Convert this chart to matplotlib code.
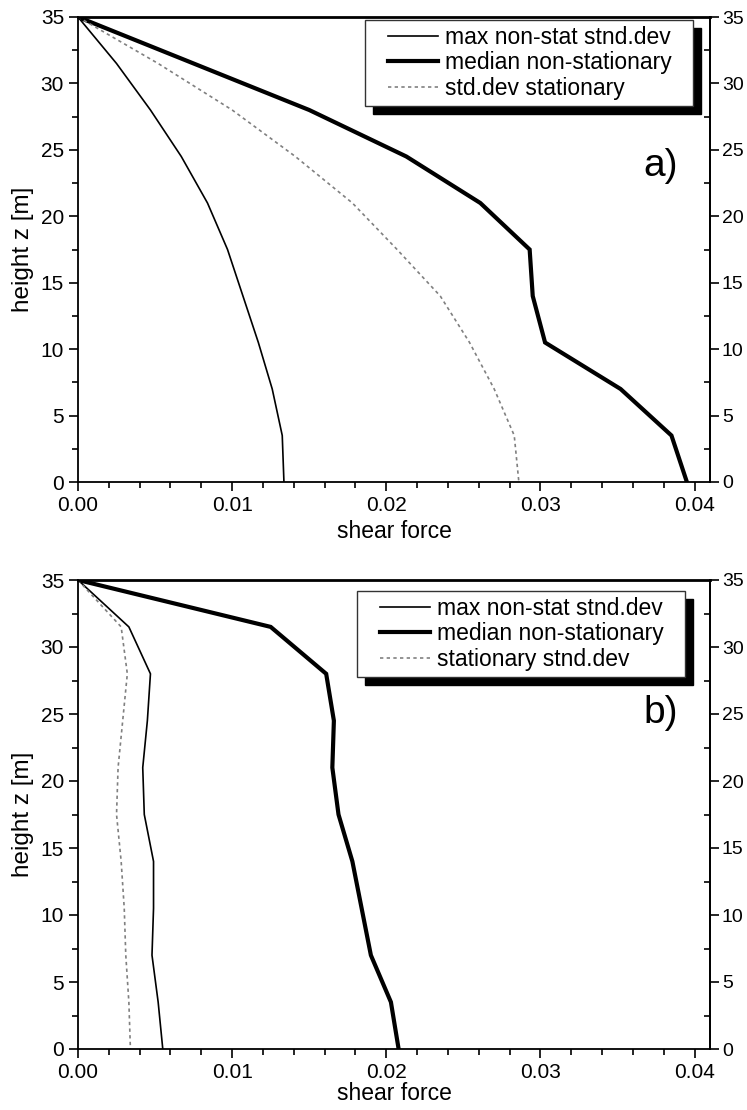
import matplotlib
matplotlib.use("Agg")
import matplotlib.pyplot as plt
from matplotlib.ticker import FixedLocator, FormatStrFormatter
from matplotlib.patches import Rectangle

plt.rcParams['font.family'] = ['Liberation Sans', 'DejaVu Sans']

# Heights of the evaluation levels [m]
height = [35, 31.5, 28, 24.5, 21, 17.5, 14, 10.5, 7, 3.5, 0]

# Panel a)
max_nonstat_a = [0, 0.0025, 0.0047, 0.0067, 0.0084, 0.0097, 0.0107, 0.0117, 0.0126, 0.01325, 0.01336]
median_nonstat_a = [0, 0.0075, 0.0150, 0.0213, 0.0261, 0.0293, 0.0295, 0.0303, 0.0352, 0.0385, 0.0395]
stationary_a = [0, 0.0052, 0.0100, 0.0141, 0.0178, 0.0207, 0.0235, 0.0254, 0.0270, 0.0283, 0.0286]
labels_a = ["max non-stat stnd.dev", "median non-stationary", "std.dev stationary"]

# Panel b)
max_nonstat_b = [0, 0.0033, 0.0047, 0.0045, 0.0042, 0.0043, 0.0049, 0.0049, 0.0048, 0.0052, 0.0055]
median_nonstat_b = [0, 0.0125, 0.0161, 0.0166, 0.0165, 0.0169, 0.0178, 0.0184, 0.0190, 0.0203, 0.0208]
stationary_b = [0, 0.0028, 0.0032, 0.0029, 0.0026, 0.0025, 0.0028, 0.0030, 0.0031, 0.0033, 0.0034]
labels_b = ["max non-stat stnd.dev", "median non-stationary", "stationary stnd.dev"]

# Axis ticks
x_major = [0.00, 0.01, 0.02, 0.03, 0.04]
x_minor = [0.002, 0.004, 0.006, 0.008, 0.012, 0.014, 0.016, 0.018, 0.022, 0.024,
           0.026, 0.028, 0.032, 0.034, 0.036, 0.038, 0.040]
y_major = [0, 5, 10, 15, 20, 25, 30, 35]
y_minor = [2.5, 7.5, 12.5, 17.5, 22.5, 27.5, 32.5]

W, H = 747, 1110
fig = plt.figure(figsize=(W / 100, H / 100), dpi=100)


def axes_px(left, top, right, bottom):
    return fig.add_axes([left / W, 1 - bottom / H, (right - left) / W, (bottom - top) / H])


def style_axes(ax, xlabelpad):
    ax.set_xlim(0, 0.041)
    ax.set_ylim(0, 35)
    ax.xaxis.set_major_locator(FixedLocator(x_major))
    ax.xaxis.set_minor_locator(FixedLocator(x_minor))
    ax.xaxis.set_major_formatter(FormatStrFormatter('%.2f'))
    ax.yaxis.set_major_locator(FixedLocator(y_major))
    ax.yaxis.set_minor_locator(FixedLocator(y_minor))
    ax.tick_params(which='major', direction='out', length=6.5, width=1.2,
                   labelsize=15, pad=3.5, top=False, right=False)
    ax.tick_params(which='minor', direction='out', length=4.3, width=1.2,
                   top=False, right=False)
    for side in ('left', 'right', 'bottom'):
        ax.spines[side].set_linewidth(1.3)
    ax.spines['top'].set_linewidth(2.0)
    ax.set_xlabel('shear force', fontsize=16.5, labelpad=xlabelpad)
    ax.set_ylabel('height z [m]', fontsize=17.5, labelpad=5)

    sec = ax.secondary_yaxis('right')
    sec.yaxis.set_major_locator(FixedLocator(y_major))
    sec.yaxis.set_minor_locator(FixedLocator(y_minor))
    sec.tick_params(which='major', direction='out', length=6.5, width=1.2,
                    labelsize=14, pad=2)
    sec.tick_params(which='minor', direction='in', length=4.3, width=1.2)
    sec.spines['right'].set_linewidth(1.3)


def draw_panel(ax, maxv, medv, statv, labels, tag, tag_y, frame_right, frame_top,
               xlabelpad):
    ax.plot(maxv, height, color='black', lw=1.2, label=labels[0])
    ax.plot(medv, height, color='black', lw=3.0, label=labels[1],
            solid_joinstyle='miter')
    ax.plot(statv, height, color='#808080', lw=1.2, ls=(0, (2, 2)), label=labels[2])
    style_axes(ax, xlabelpad)
    ax.text(0.0378, tag_y, tag, fontsize=28, ha='center', va='baseline')

    hpad_l, hpad_r, vpad = 23, 21, 6
    leg = ax.legend(loc='upper right',
                    bbox_to_anchor=((frame_right - hpad_r) / W, 1 - (frame_top + vpad) / H),
                    bbox_transform=fig.transFigure, frameon=False, borderpad=0,
                    borderaxespad=0, fontsize=16.5, handlelength=2.2,
                    handletextpad=0.3, labelspacing=0.1)
    leg.set_zorder(6)
    return leg, hpad_l, hpad_r, vpad


ax_a = axes_px(78, 17, 710, 482)
ax_b = axes_px(78, 580, 710, 1049)

legends = [
    (ax_a, draw_panel(ax_a, max_nonstat_a, median_nonstat_a, stationary_a,
                      labels_a, 'a)', 23.0, 693, 20, 4)),
    (ax_b, draw_panel(ax_b, max_nonstat_b, median_nonstat_b, stationary_b,
                      labels_b, 'b)', 24.3, 685, 591, 0)),
]

# Boxed legend frame with a solid drop shadow
fig.canvas.draw()
shadow_off = 8
for ax, (leg, hpad_l, hpad_r, vpad) in legends:
    bb = leg.get_window_extent()
    x0, y0 = bb.x0 - hpad_l, bb.y0 - vpad
    w, h = bb.width + hpad_l + hpad_r, bb.height + 2 * vpad
    shadow = Rectangle(((x0 + shadow_off) / W, (y0 - shadow_off) / H), w / W, h / H,
                       transform=fig.transFigure, facecolor='black', edgecolor='black',
                       zorder=4.5, clip_on=False)
    frame = Rectangle((x0 / W, y0 / H), w / W, h / H, transform=fig.transFigure,
                      facecolor='white', edgecolor='#333333', lw=1.0,
                      zorder=4.6, clip_on=False)
    ax.add_patch(shadow)
    ax.add_patch(frame)

fig.savefig('out.png', dpi=100, facecolor='white')
